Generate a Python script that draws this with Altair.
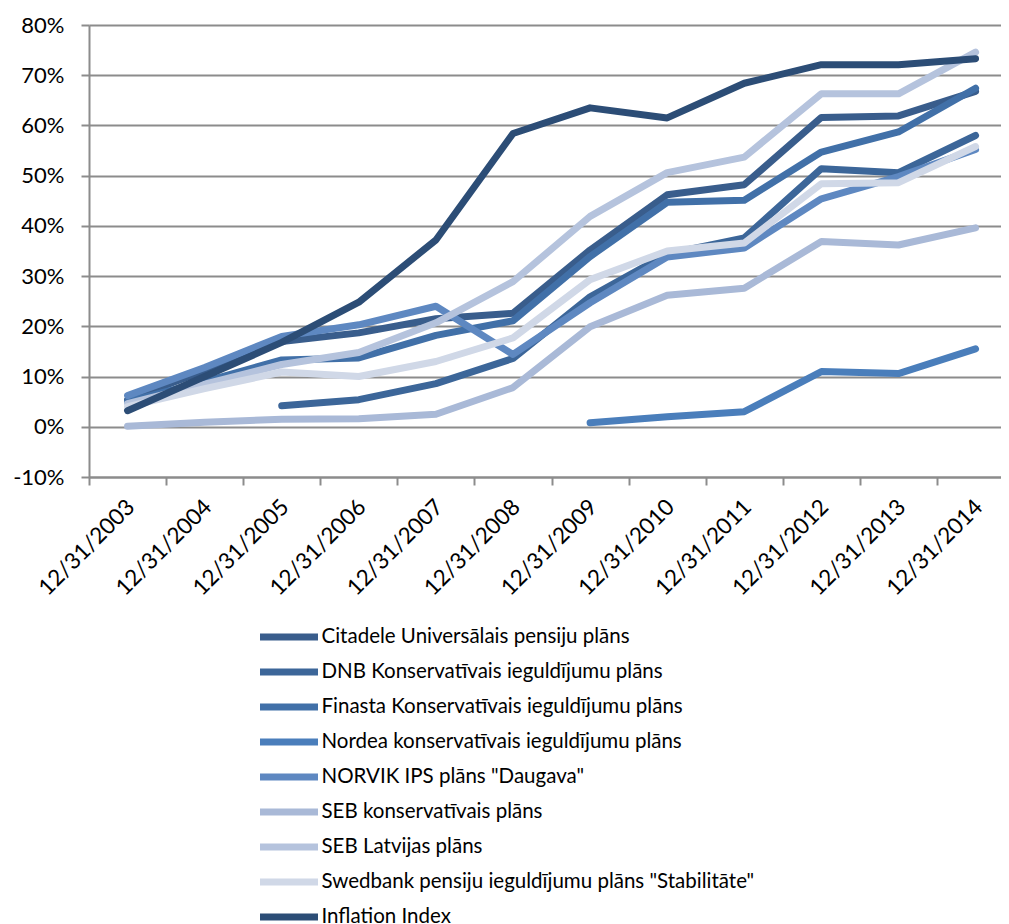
import json
import altair as alt
import pandas as pd

dates = ["12/31/2003", "12/31/2004", "12/31/2005", "12/31/2006", "12/31/2007",
         "12/31/2008", "12/31/2009", "12/31/2010", "12/31/2011", "12/31/2012",
         "12/31/2013", "12/31/2014"]

series_names = [
    "Citadele Universālais pensiju plāns",
    "DNB Konservatīvais ieguldījumu plāns",
    "Finasta Konservatīvais ieguldījumu plāns",
    "Nordea konservatīvais ieguldījumu plāns",
    'NORVIK IPS plāns "Daugava"',
    "SEB konservatīvais plāns",
    "SEB Latvijas plāns",
    'Swedbank pensiju ieguldījumu plāns "Stabilitāte"',
    "Inflation Index",
]

colors = ["#395d8c", "#3c6699", "#4170a8", "#4a7ebb", "#5e88c1",
          "#a9b9d7", "#b5c3dd", "#d0d8e7", "#2c4d76"]

citadele = [5.4, 11.2, 17.0, 18.7, 21.5, 22.6, 35.2, 46.2, 48.2, 61.6, 61.9, 66.8]
dnb = [None, None, 4.2, 5.4, 8.6, 13.6, 25.9, 34.4, 37.6, 51.4, 50.6, 58.0]
finasta = [5.0, 9.0, 13.3, 13.7, 18.2, 21.1, 33.9, 44.7, 45.1, 54.7, 58.7, 67.4]
nordea = [None, None, None, None, None, None, 0.8, 2.0, 3.0, 11.0, 10.6, 15.5]
norvik = [6.2, 11.8, 18.0, 20.3, 24.0, 14.4, 24.7, 33.8, 35.6, 45.4, 49.8, 55.2]
seb_kons = [0.1, 0.9, 1.5, 1.6, 2.5, 7.8, 19.9, 26.2, 27.6, 36.9, 36.2, 39.6]
seb_latv = [4.6, 8.5, 12.4, 14.8, 20.7, 28.9, 41.9, 50.6, 53.7, 66.3, 66.3, 74.6]
swedbank = [4.0, 7.6, 10.9, 10.0, 13.0, 17.7, 29.3, 35.0, 36.6, 48.4, 48.6, 55.8]
inflation = [3.2, 10.0, 16.8, 24.8, 37.2, 58.4, 63.5, 61.5, 68.4, 72.1, 72.1, 73.3]

y_ticks = [-10, 0, 10, 20, 30, 40, 50, 60, 70, 80]

all_series = [citadele, dnb, finasta, nordea, norvik, seb_kons, seb_latv, swedbank, inflation]

rows = []
for name, vals in zip(series_names, all_series):
    for i, (d, v) in enumerate(zip(dates, vals)):
        rows.append({"series": name, "idx": i, "date": d, "value": v})
df = pd.DataFrame(rows)

FONT = "Lato"
W, H = 912, 452
x_hi = 11.33
step_px = W / (x_hi + 0.5)

label_expr = json.dumps(dates) + "[datum.value]"

x_enc = alt.X(
    "idx:Q",
    scale=alt.Scale(domain=[-0.5, x_hi], nice=False, zero=False),
    axis=alt.Axis(
        values=list(range(len(dates))),
        labelExpr=label_expr,
        tickOffset=-step_px / 2,
        labelOffset=step_px / 2 + 3,
        grid=False,
        labelAngle=-45,
        labelAlign="right",
        labelBaseline="middle",
        labelPadding=18,
        labelFont=FONT,
        labelFontSize=22.5,
        labelColor="#000000",
        tickSize=8,
        tickWidth=2,
        tickColor="#8c8c8c",
        domainColor="#8c8c8c",
        domainWidth=2,
        labelOverlap=False,
        title=None,
    ),
)

y_enc = alt.Y(
    "value:Q",
    scale=alt.Scale(domain=[-10, 80], nice=False, zero=False),
    axis=alt.Axis(
        values=y_ticks,
        labelExpr="datum.value + '%'",
        grid=True,
        gridColor="#8c8c8c",
        gridWidth=2,
        tickSize=8,
        tickWidth=2,
        tickColor="#8c8c8c",
        domainColor="#8c8c8c",
        domainWidth=2,
        labelFont=FONT,
        labelFontSize=22,
        labelColor="#000000",
        labelPadding=17,
        title=None,
    ),
)

color_enc = alt.Color(
    "series:N",
    scale=alt.Scale(domain=series_names, range=colors),
    legend=alt.Legend(
        orient="none",
        legendX=166,
        legendY=602,
        direction="vertical",
        title=None,
        symbolType="stroke",
        symbolSize=3364,
        symbolStrokeWidth=7,
        symbolOffset=1.5,
        clipHeight=20,
        rowPadding=14,
        labelOffset=0,
        labelFont=FONT,
        labelFontSize=20.5,
        labelColor="#000000",
        labelLimit=600,
    ),
)

layers = []
for name in series_names:
    layers.append(
        alt.Chart(df)
        .transform_filter(alt.datum.series == name)
        .mark_line(strokeWidth=7, strokeCap="round", strokeJoin="round")
        .encode(x=x_enc, y=y_enc, color=color_enc)
    )

chart = (
    alt.layer(*layers)
    .properties(
        width=W,
        height=H,
        autosize=alt.AutoSizeParams(type="none"),
        padding={"left": 81, "top": 17, "right": 0, "bottom": 916 - 17 - H},
    )
    .configure_view(stroke=None)
)

chart.save("out.html", embed_options={"renderer": "svg", "actions": False})
